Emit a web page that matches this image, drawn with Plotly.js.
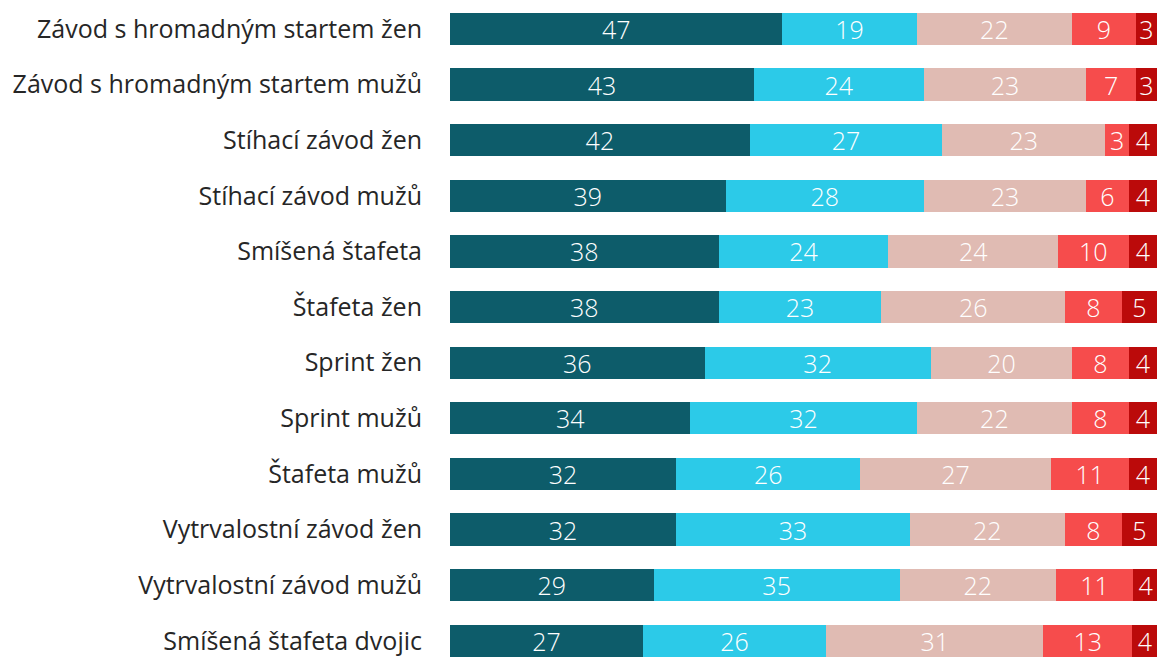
<!DOCTYPE html>
<html>
<head>
<meta charset="utf-8">
<script src="https://cdn.plot.ly/plotly-3.0.1.min.js"></script>
<style>html,body{margin:0;padding:0;background:#fff;}#chart{width:1157px;height:657px;}</style>
</head>
<body>
<div id="chart"></div>
<script>
const categories = [
  "Závod s hromadným startem žen",
  "Závod s hromadným startem mužů",
  "Stíhací závod žen",
  "Stíhací závod mužů",
  "Smíšená štafeta",
  "Štafeta žen",
  "Sprint žen",
  "Sprint mužů",
  "Štafeta mužů",
  "Vytrvalostní závod žen",
  "Vytrvalostní závod mužů",
  "Smíšená štafeta dvojic"
];
const series1 = [47, 43, 42.4, 39, 38, 38, 36, 34, 32, 32, 28.8, 27.3];
const series2 = [19, 24, 27.2, 28, 24, 23, 32, 32, 26, 33, 34.8, 25.9];
const series3 = [22, 23, 23.1, 23, 24, 26, 20, 22, 27, 22, 22.1, 30.7];
const series4 = [9, 7, 3.3, 6, 10, 8, 8, 8, 11, 8, 10.9, 12.6];
const series5 = [3, 3, 4, 4, 4, 5, 4, 4, 4, 5, 3.6, 3.6];
const seriesList = [series1, series2, series3, series4, series5];
const colors = ["#0d5c6a", "#2ccae8", "#e0bbb3", "#f64c4c", "#bb0a0a"];

const fontFamily = "'Open Sans', 'Noto Sans', sans-serif";
const traces = seriesList.map((vals, i) => ({
  type: "bar",
  orientation: "h",
  x: vals,
  y: categories,
  marker: {color: colors[i], line: {width: 0}},
  texttemplate: "%{x:.0f}",
  textposition: "inside",
  insidetextanchor: "middle",
  constraintext: "none",
  textangle: 0,
  insidetextfont: {color: "#ffffff", size: 25, family: fontFamily, weight: 300},
  hoverinfo: "skip",
  showlegend: false
}));

const layout = {
  width: 1157,
  height: 657,
  margin: {l: 450, r: 0, t: 0, b: 0, pad: 0},
  barmode: "stack",
  bargap: 0.42,
  paper_bgcolor: "#ffffff",
  plot_bgcolor: "#ffffff",
  font: {family: fontFamily, color: "#333333"},
  xaxis: {range: [0, 100], showgrid: false, zeroline: false, showticklabels: false, visible: false, fixedrange: true},
  yaxis: {
    type: "category",
    categoryorder: "array",
    categoryarray: categories,
    range: [11.29, -0.52],
    showgrid: false,
    zeroline: false,
    showline: false,
    ticks: "",
    ticklabelstandoff: 27,
    tickfont: {size: 25, color: "#262626", family: fontFamily, weight: 400},
    automargin: false
  }
};
Plotly.newPlot("chart", traces, layout, {displayModeBar: false, staticPlot: true});
</script>
</body>
</html>
